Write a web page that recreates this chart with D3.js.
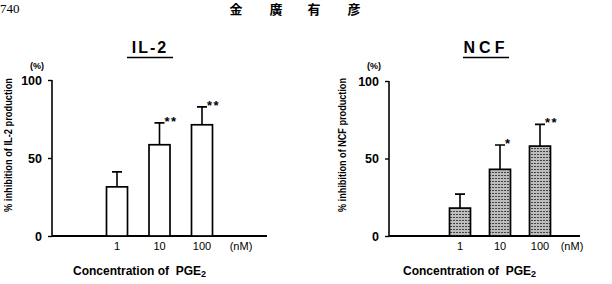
<!DOCTYPE html>
<html>
<head>
<meta charset="utf-8">
<script src="https://cdn.jsdelivr.net/npm/d3@7"></script>
<style>
  body { margin: 0; background: #fff; }
  svg { display: block; font-family: "Liberation Sans", Arial, sans-serif; }
</style>
</head>
<body>
<svg id="svg"></svg>
<script>
const concentrations = ["1", "10", "100"];
const yTicks = [0, 50, 100];

const il2Means = [31.5, 58.5, 71.3];
const il2Errors = [9.6, 14, 11.5];
const il2Signif = ["", "**", "**"];

const ncfMeans = [18, 43, 58];
const ncfErrors = [9, 15.7, 14];
const ncfSignif = ["", "*", "**"];

const width = 612, height = 284;

const svg = d3.select('#svg')
  .attr('width', width)
  .attr('height', height);

// stipple fill for the NCF bars
const pat = svg.append('defs').append('pattern')
  .attr('id', 'dots')
  .attr('width', 3)
  .attr('height', 3)
  .attr('patternUnits', 'userSpaceOnUse');
pat.append('rect').attr('width', 3).attr('height', 3).attr('fill', '#bdbdbd');
pat.append('rect').attr('x', 0).attr('y', 1).attr('width', 2).attr('height', 1).attr('fill', '#444');

// page header
svg.append('text').attr('x', 0).attr('y', 13)
  .style('font-family', '"Liberation Serif", serif').style('font-size', '13px')
  .text('740');
[['金', 236], ['廣', 276], ['有', 314], ['彦', 354]].forEach(([c, x]) => {
  svg.append('text').attr('x', x).attr('y', 14).attr('text-anchor', 'middle')
    .style('font-family', '"Noto Sans CJK JP"').style('font-size', '13px').style('font-weight', 'bold')
    .text(c);
});

function drawPanel(p) {
  const g = svg.append('g');

  const y = d3.scaleLinear().domain([0, 100]).range([p.y0, p.y100]);
  const x = d3.scalePoint().domain(concentrations).range([p.first, p.last]);
  const barW = 21;

  // title with underline
  g.append('text')
    .attr('x', p.titleX).attr('y', 53)
    .attr('text-anchor', 'middle')
    .style('font-size', '16px').style('font-weight', 'bold')
    .style('letter-spacing', p.titleSpacing)
    .text(p.title);
  g.append('line')
    .attr('x1', p.titleX - 23).attr('x2', p.titleX + 23)
    .attr('y1', 57.5).attr('y2', 57.5)
    .attr('stroke', '#000').attr('stroke-width', 1.6);

  // y axis
  const yAxis = d3.axisLeft(y).tickValues(yTicks).tickSize(4).tickPadding(6);
  const ya = g.append('g')
    .attr('transform', `translate(${p.axisX},0)`)
    .call(yAxis);
  ya.select('.domain').attr('stroke-width', 1.6).attr('d', `M0,${p.y100}V${p.y0}`);
  ya.selectAll('.tick line').attr('stroke-width', 1.4);
  ya.selectAll('.tick text')
    .style('font-size', '12.5px').style('font-weight', 'bold')
    .style('font-family', '"Liberation Sans", Arial, sans-serif');

  // x axis baseline
  g.append('line')
    .attr('x1', p.axisX).attr('x2', p.axisEnd)
    .attr('y1', y(0)).attr('y2', y(0))
    .attr('stroke', '#000').attr('stroke-width', 1.8);

  g.append('text')
    .attr('x', p.axisX - 15).attr('y', 69)
    .attr('text-anchor', 'middle')
    .style('font-size', '9px').style('font-weight', 'bold')
    .text('(%)');

  // rotated y label
  g.append('text')
    .attr('transform', `translate(${p.ylabX},145) rotate(-90)`)
    .attr('text-anchor', 'middle')
    .attr('textLength', 134).attr('lengthAdjust', 'spacingAndGlyphs')
    .style('font-size', '11.5px').style('font-weight', 'bold')
    .text(p.ylabel);

  const data = concentrations.map((c, i) => ({ c, m: p.means[i], e: p.errors[i], s: p.signif[i] }));

  // error bars
  g.selectAll('.err')
    .data(data)
    .enter()
    .append('path')
      .attr('fill', 'none').attr('stroke', '#000').attr('stroke-width', 1.6)
      .attr('d', d => `M${x(d.c)},${y(d.m)}V${y(d.m + d.e)}M${x(d.c) - 5},${y(d.m + d.e)}H${x(d.c) + 5}`);

  g.selectAll('.bar')
    .data(data)
    .enter()
    .append('rect')
      .attr('x', d => x(d.c) - barW / 2)
      .attr('y', d => y(d.m))
      .attr('width', barW)
      .attr('height', d => y(0) - y(d.m))
      .attr('fill', p.fill)
      .attr('stroke', '#000')
      .attr('stroke-width', 1.7);

  g.selectAll('.sig')
    .data(data)
    .enter()
    .append('text')
      .attr('x', d => x(d.c) + 5)
      .attr('y', d => y(d.m + d.e) + 3)
      .style('font-size', '13px').style('font-weight', 'bold')
      .style('letter-spacing', '1.5px')
      .text(d => d.s);

  // x tick labels
  g.selectAll('.xt')
    .data(concentrations)
    .enter()
    .append('text')
      .attr('x', d => x(d))
      .attr('y', 250)
      .attr('text-anchor', 'middle')
      .style('font-size', '11px')
      .text(d => d);
  g.append('text')
    .attr('x', p.unitX).attr('y', 250)
    .attr('text-anchor', 'middle')
    .style('font-size', '11px')
    .text('(nM)');

  // x title
  const t = g.append('text')
    .attr('x', p.xtitleX).attr('y', 275)
    .style('font-size', '12px').style('font-weight', 'bold');
  t.append('tspan').text('Concentration of\u00a0\u00a0PGE');
  t.append('tspan').attr('dy', 2).style('font-size', '9px').text('2');
}

drawPanel({
  title: 'IL-2', titleX: 150, titleSpacing: '2px',
  ylabel: '% inhibition of IL-2 production', ylabX: 12,
  axisX: 52, axisEnd: 267, y0: 236, y100: 80,
  first: 117, last: 202, unitX: 241, xtitleX: 73,
  means: il2Means, errors: il2Errors, signif: il2Signif, fill: '#fff'
});

drawPanel({
  title: 'NCF', titleX: 486, titleSpacing: '4px',
  ylabel: '% inhibition of NCF production', ylabX: 346,
  axisX: 389, axisEnd: 580, y0: 236, y100: 81,
  first: 460, last: 540, unitX: 572, xtitleX: 403,
  means: ncfMeans, errors: ncfErrors, signif: ncfSignif, fill: 'url(#dots)'
});
</script>
</body>
</html>
